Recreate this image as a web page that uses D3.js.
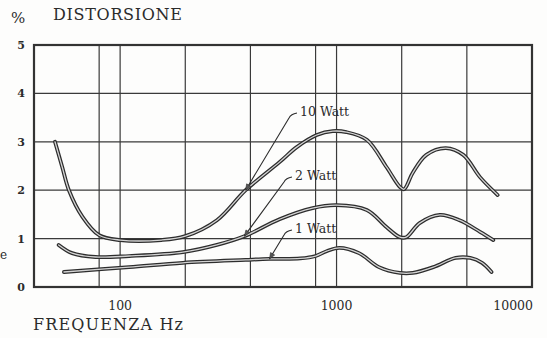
<!DOCTYPE html>
<html>
<head>
<meta charset="utf-8">
<script src="https://cdn.jsdelivr.net/npm/d3@7"></script>
<style>
  html, body { margin: 0; padding: 0; background: #fdfdfc; }
  svg { display: block; }
</style>
</head>
<body>
<svg id="chart" width="547" height="338"></svg>
<script>
// Harmonic distortion (%) against frequency (Hz) at three output powers
const freq10 = [50, 54, 58, 67, 80, 100, 155, 200, 280, 380, 545, 655, 810, 960, 1110, 1380, 1700, 1960, 2050, 2250, 2600, 3200, 3850, 4600, 5550];
const dist10 = [3.0, 2.48, 2.0, 1.45, 1.07, 0.97, 0.97, 1.05, 1.38, 2.0, 2.58, 2.89, 3.14, 3.22, 3.2, 3.04, 2.48, 2.07, 2.02, 2.36, 2.73, 2.87, 2.73, 2.27, 1.9];

const freq2 = [52, 60, 77, 110, 195, 280, 375, 545, 775, 1000, 1380, 1700, 1960, 2100, 2420, 3000, 3700, 4600, 5300];
const dist2 = [0.87, 0.70, 0.62, 0.64, 0.72, 0.87, 1.05, 1.40, 1.63, 1.69, 1.59, 1.24, 1.03, 1.03, 1.32, 1.49, 1.38, 1.14, 0.97];

const freq1 = [55, 110, 195, 380, 490, 680, 800, 900, 1030, 1270, 1570, 1960, 2250, 2800, 3550, 4150, 4700, 5200];
const dist1 = [0.31, 0.41, 0.50, 0.56, 0.58, 0.59, 0.64, 0.74, 0.81, 0.70, 0.41, 0.29, 0.29, 0.41, 0.60, 0.60, 0.50, 0.31];

const seriesNames = ["10 Watt", "2 Watt", "1 Watt"];
// frequency on each curve where its label's pointer lands
const pointerFreq = [380, 375, 490];

const yTicks = [0, 1, 2, 3, 4, 5];
const xTickLabels = [100, 1000, 10000];
const xGrid = [80, 100, 200, 400, 800, 1000, 2000, 4000];

const yTitle = "DISTORSIONE";
const yUnit = "%";
const xTitle = "FREQUENZA  Hz";

// ---- layout ----
const plot = { left: 34, right: 532, top: 45, bottom: 287 };
const serif = "'DejaVu Serif', 'Liberation Serif', serif";
const ink = "#2b2b2b";

const x = d3.scaleLog().domain([40, 8000]).range([plot.left, plot.right]);
const y = d3.scaleLinear().domain([0, 5]).range([plot.bottom, plot.top]);

const svg = d3.select("#chart");
svg.append("rect").attr("width", 547).attr("height", 338).attr("fill", "#fdfdfc");

// ---- grid ----
const grid = svg.append("g").attr("stroke", "#3a3a3a").attr("stroke-width", 1.2).attr("fill", "none");
grid.selectAll("line.h").data(yTicks.filter(v => v > 0 && v < 5)).join("line")
  .attr("class", "h")
  .attr("x1", plot.left).attr("x2", plot.right)
  .attr("y1", d => y(d)).attr("y2", d => y(d));
grid.selectAll("line.v").data(xGrid).join("line")
  .attr("class", "v")
  .attr("x1", d => x(d)).attr("x2", d => x(d))
  .attr("y1", plot.top).attr("y2", plot.bottom);

// frame
svg.append("rect")
  .attr("x", plot.left).attr("y", plot.top)
  .attr("width", plot.right - plot.left).attr("height", plot.bottom - plot.top)
  .attr("fill", "none").attr("stroke", "#333").attr("stroke-width", 2.2);

// ---- y axis labels ----
const yAxis = d3.axisLeft(y).tickValues(yTicks).tickSize(0).tickPadding(0).tickFormat(d3.format("d"));
const gy = svg.append("g").attr("transform", `translate(${plot.left - 9},0)`).call(yAxis);
gy.select(".domain").remove();
gy.selectAll("text")
  .attr("font-family", serif).attr("font-weight", "bold").attr("font-size", 11)
  .attr("fill", ink);

// ---- x axis labels ----
svg.append("g").selectAll("text").data(xTickLabels).join("text")
  .attr("x", d => Math.min(x(d), plot.right + 1))
  .attr("y", 310)
  .attr("text-anchor", d => x(d) > plot.right ? "end" : "middle")
  .attr("font-family", serif).attr("font-size", 12.5).attr("fill", ink)
  .text(d => d);

// ---- titles ----
svg.append("text").attr("x", 11).attr("y", 23)
  .attr("font-family", serif).attr("font-size", 15).attr("fill", ink).text(yUnit);
svg.append("text").attr("x", 53).attr("y", 20)
  .attr("font-family", serif).attr("font-size", 16).attr("fill", ink)
  .attr("textLength", 129).attr("lengthAdjust", "spacing").text(yTitle);
svg.append("text").attr("x", 33).attr("y", 330)
  .attr("font-family", serif).attr("font-size", 16).attr("fill", ink)
  .attr("textLength", 150).attr("lengthAdjust", "spacing").text(xTitle);
// stray letter at the page edge
svg.append("text").attr("x", 0).attr("y", 259)
  .attr("font-family", serif).attr("font-size", 12).attr("fill", ink).text("e");

// ---- curves (drawn as a double rule) ----
const series = [
  { f: freq10, d: dist10 },
  { f: freq2, d: dist2 },
  { f: freq1, d: dist1 }
];
const line = d3.line().x(p => x(p[0])).y(p => y(p[1])).curve(d3.curveCatmullRom.alpha(0.5));
const curves = svg.append("g").attr("fill", "none").attr("stroke-linecap", "round");
series.forEach(s => {
  const pts = s.f.map((f, i) => [f, s.d[i]]);
  curves.append("path").attr("d", line(pts)).attr("stroke", "#2d2d2d").attr("stroke-width", 3.8);
  curves.append("path").attr("d", line(pts)).attr("stroke", "#d4d4d4").attr("stroke-width", 1.3);
});

// ---- labels with pointers ----
const labelPos = [[300, 116], [295, 180], [295, 233]];
const labels = svg.append("g");
series.forEach((s, i) => {
  const [lx, ly] = labelPos[i];
  const k = s.f.indexOf(pointerFreq[i]);
  const tx = x(pointerFreq[i]), ty = y(s.d[k]);
  const ex = lx - 11, ey = ly + 2;
  labels.append("path")
    .attr("d", `M${tx},${ty} L${ex},${ey} Q${ex + 2},${ey - 4} ${lx - 3},${ly - 3}`)
    .attr("fill", "none").attr("stroke", "#2d2d2d").attr("stroke-width", 1.1);
  // small arrow head on the curve
  const ang = Math.atan2(ty - ey, tx - ex);
  const L = 6, W = 2.4;
  const bx = tx - L * Math.cos(ang), by = ty - L * Math.sin(ang);
  labels.append("path")
    .attr("d", `M${tx},${ty} L${bx - W * Math.sin(ang)},${by + W * Math.cos(ang)} L${bx + W * Math.sin(ang)},${by - W * Math.cos(ang)} Z`)
    .attr("fill", "#555").attr("stroke", "#2d2d2d").attr("stroke-width", 0.6);
  labels.append("text").attr("x", lx).attr("y", ly)
    .attr("font-family", serif).attr("font-size", 12.5).attr("fill", ink)
    .text(seriesNames[i]);
});
</script>
</body>
</html>
